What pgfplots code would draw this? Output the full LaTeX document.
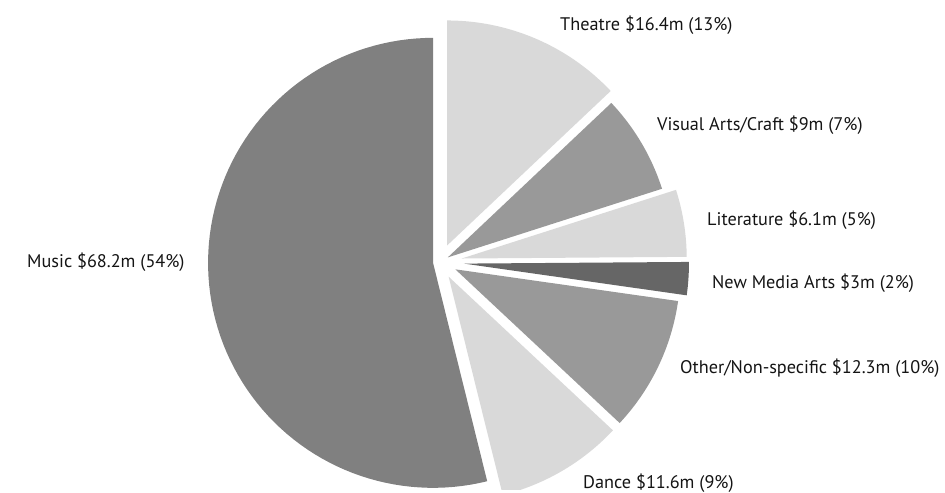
\documentclass[border=0pt]{standalone}
\usepackage{pgfplots}
\pgfplotsset{compat=1.18}
\usepackage{fontspec}
\setmainfont{PT Sans}
\definecolor{lightg}{gray}{0.851}
\definecolor{midg}{gray}{0.6}
\definecolor{darkg}{gray}{0.4}
\definecolor{musicg}{gray}{0.502}
\begin{document}
\begin{tikzpicture}
\begin{axis}[
  scale only axis, width=945bp, height=490bp,
  xmin=0, xmax=945, ymin=0, ymax=490,
  axis line style={draw=none}, xtick=\empty, ytick=\empty,
  clip=true,
]
\def\total{126.6}
\def\cx{440}\def\cy{228}\def\R{225}
\gdef\cur{90}
% value / explode / colour, clockwise from 12 o'clock
\foreach \v/\e/\c in {16.4/18/lightg, 9/9/midg, 6.1/22/lightg, 3/24/darkg, 12.3/17/midg, 11.6/17/lightg, 68.2/7/musicg}{
  \pgfmathsetmacro\a{\cur - \v/\total*360}
  \pgfmathsetmacro\m{(\cur+\a)/2}
  \pgfmathsetmacro\vx{\cx+\e*cos(\m)}
  \pgfmathsetmacro\vy{\cy+\e*sin(\m)}
  \edef\temp{\noexpand\addplot[fill=\c, draw=none, domain=\a:\cur, samples=90, variable=\noexpand\t]
     ({\vx+\R*cos(\noexpand\t)},{\vy+\R*sin(\noexpand\t)}) -- (axis cs:\vx,\vy) -- cycle;}
  \temp
  \xdef\cur{\a}
}
\end{axis}
\begin{scope}[every node/.style={anchor=west, inner sep=0pt, font=\fontsize{18.3}{20}\selectfont, text=black!92}]
\node at (560bp,465bp) {Theatre \$16.4m (13\%)};
\node at (657bp,365bp) {Visual Arts/Craft \$9m (7\%)};
\node at (707bp,270bp) {Literature \$6.1m (5\%)};
\node at (712bp,207bp) {New Media Arts \$3m (2\%)};
\node at (680bp,122bp) {Other/Non-specific \$12.3m (10\%)};
\node at (583bp,7bp) {Dance \$11.6m (9\%)};
\node at (27bp,228bp) {Music \$68.2m (54\%)};
\end{scope}
\end{tikzpicture}
\end{document}
